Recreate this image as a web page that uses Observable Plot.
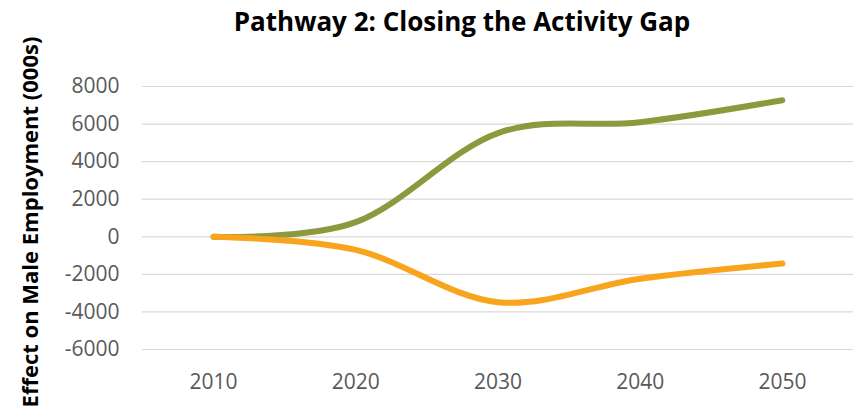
<!DOCTYPE html>
<html>
<head>
<meta charset="utf-8">
<script src="https://cdn.jsdelivr.net/npm/d3@7"></script>
<script src="https://cdn.jsdelivr.net/npm/@observablehq/plot@0.6"></script>
<style>
  html, body { margin: 0; padding: 0; background: #fff; }
  #wrap { width: 860px; height: 416px; position: relative; overflow: hidden; background: #fff; }
  #title { height: 50px; box-sizing: border-box; padding-top: 3px; padding-left: 64px; text-align: center;
           font-family: 'Open Sans', sans-serif; font-weight: bold; font-size: 26px; color: #000; line-height: normal; white-space: nowrap; }
  svg { display: block; }
</style>
</head>
<body>
<div id="wrap">
  <div id="title"></div>
  <div id="chart"></div>
</div>
<script>
const titleText = "Pathway 2: Closing the Activity Gap";
const yLabel = "Effect on Male Employment (000s)";
const years = [2010, 2020, 2030, 2040, 2050];
const greenValues = [0, 780, 5520, 6100, 7270];
const orangeValues = [0, -700, -3480, -2230, -1420];
const yTicks = [8000, 6000, 4000, 2000, 0, -2000, -4000, -6000];
const xTicks = [2010, 2020, 2030, 2040, 2050];

const green = years.map((year, i) => ({year, value: greenValues[i]}));
const orange = years.map((year, i) => ({year, value: orangeValues[i]}));

document.getElementById("title").textContent = titleText;

const chart = Plot.plot({
  width: 860,
  height: 366,
  marginTop: 36,
  marginBottom: 67,
  marginLeft: 142,
  marginRight: 7,
  x: {domain: [2005, 2055]},
  y: {domain: [-6000, 8000]},
  style: {fontFamily: "'Open Sans', sans-serif", background: "white", overflow: "visible"},
  marks: [
    Plot.ruleY(yTicks, {stroke: "#d9d9d9", strokeWidth: 1.2}),
    Plot.axisY({ticks: yTicks, tickSize: 0, tickPadding: 23, tickFormat: d => String(d), fontSize: 21, fill: "#595959", label: null}),
    Plot.axisX({ticks: xTicks, tickSize: 0, tickPadding: 25, tickFormat: d => String(d), fontSize: 21, fill: "#595959", label: null}),
    Plot.line(green, {x: "year", y: "value", stroke: "#8c9a3d", strokeWidth: 6, curve: "cardinal", strokeLinecap: "round", strokeLinejoin: "round"}),
    Plot.line(orange, {x: "year", y: "value", stroke: "#f8a51d", strokeWidth: 6, curve: "cardinal", strokeLinecap: "round", strokeLinejoin: "round"}),
    Plot.text([yLabel], {frameAnchor: "left", rotate: -90, dx: -112, dy: 4, fontSize: 22, fontWeight: "bold", fill: "#000", textAnchor: "middle", lineAnchor: "middle"})
  ]
});
document.getElementById("chart").appendChild(chart);
</script>
</body>
</html>
